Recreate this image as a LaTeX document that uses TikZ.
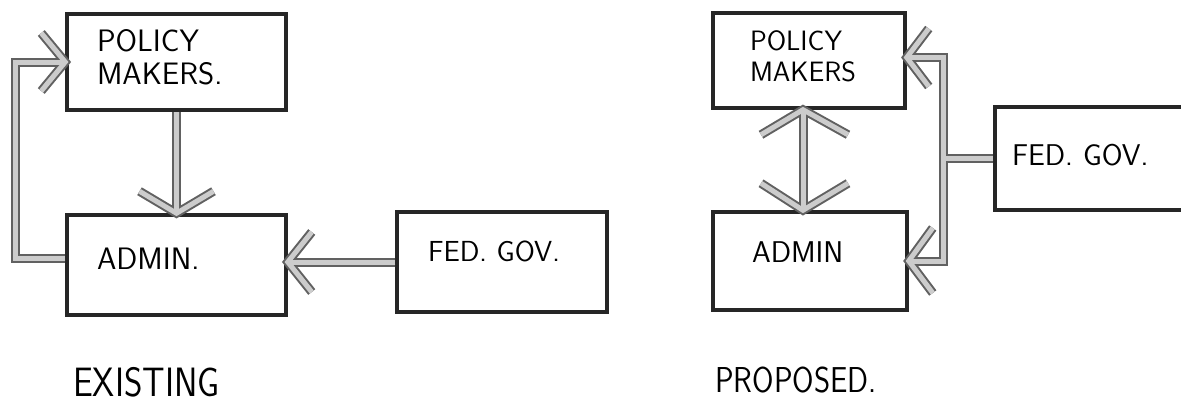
\documentclass[tikz,border=0pt]{standalone}
\usepackage{graphicx}
\usetikzlibrary{calc}
\tikzset{
  box/.style={draw=black!85, line width=3.5pt, inner ysep=0pt, align=left,
    font=\sffamily\fontsize{31}{33}\selectfont},
  barout/.style={draw=black!62, line width=9pt, line join=miter},
  barin/.style={draw=black!20, line width=5pt, line join=miter},
  caption/.style={anchor=base west, inner sep=0pt, font=\sffamily},
}
\newcommand\allbars[1]{%
  % existing
  \draw[#1] (pm1.south) -- (ad1.north);
  \draw[#1] ($(ad1.north)+(-37,-22)$) -- (ad1.north) -- ($(ad1.north)+(37,-22)$);
  \draw[#1] (lp) -- ++(-50,0) |- (pm1.west);
  \draw[#1] ($(pm1.west)+(-24,-29)$) -- (pm1.west) -- ($(pm1.west)+(-24,29)$);
  \draw[#1] (fg1.west) -- (t3);
  \draw[#1] ($(t3)+(24,-30)$) -- (t3) -- ($(t3)+(24,30)$);
  % proposed
  \draw[#1] (dt) -- (db);
  \draw[#1] ($(dt)+(-42,25)$) -- (dt) -- ($(dt)+(45,25)$);
  \draw[#1] ($(db)+(-42,-27)$) -- (db) -- ($(db)+(45,-27)$);
  \draw[#1] (fg2.west) -- (jn);
  \draw[#1] (tp) -- (jt) -- (jb) -- (ad2.east);
  \draw[#1] ($(tp)+(22,-29)$) -- (tp) -- ($(tp)+(22,29)$);
  \draw[#1] ($(ad2.east)+(24,-33)$) -- (ad2.east) -- ($(ad2.east)+(24,32)$);
}
\begin{document}
\begin{tikzpicture}[x=1pt,y=-1pt]
\useasboundingbox (0,0) rectangle (1181,402);
\clip (0,0) rectangle (1181,402);
% ---- existing ----
\node[box, minimum width=219pt, minimum height=96pt, text width=159pt, inner xsep=30pt, text depth=43pt]
  (pm1) at (176.5,62) {POLICY\\MAKERS.};
\node[box, minimum width=219pt, minimum height=100pt, text width=159pt, inner xsep=30pt, text depth=12pt]
  (ad1) at (176.5,265) {ADMIN.};
\node[box, font=\sffamily\fontsize{29}{32}\selectfont, minimum width=210pt, minimum height=100pt, text width=148pt, inner xsep=31pt, text depth=22pt]
  (fg1) at (502,262) {FED.~GOV.};
\coordinate (lp) at ($(ad1.west)+(0,-7)$);
\coordinate (t3) at (fg1.west -| ad1.east);
% ---- proposed ----
\node[box, font=\sffamily\fontsize{28}{31}\selectfont, minimum width=192pt, minimum height=95pt, text width=118pt, inner xsep=37pt, text depth=39pt]
  (pm2) at (809,60.5) {POLICY\\MAKERS};
\node[box, font=\sffamily\fontsize{30}{32}\selectfont, minimum width=194pt, minimum height=98pt, text width=116pt, inner xsep=39pt, text depth=18pt]
  (ad2) at (810,261) {ADMIN};
\node[box, font=\sffamily\fontsize{30}{34}\selectfont, minimum width=210pt, minimum height=103pt, text width=176pt, inner xsep=17pt, text depth=8pt]
  (fg2) at (1100,158.5) {FED.~GOV.};
\coordinate (dt) at ($(pm2.south)+(-6,0)$);
\coordinate (db) at (dt |- ad2.north);
\coordinate (jn) at ($(fg2.west)+(-50,0)$);
\coordinate (tp) at ($(pm2.east)+(0,-3)$);
\coordinate (jt) at (tp -| jn);
\coordinate (jb) at (jn |- ad2.east);
% ---- connectors ----
\allbars{barout}
\allbars{barin}
% ---- captions ----
\node[caption] (lex) at (73,396) {\fontsize{41}{41}\selectfont\scalebox{0.86}[1]{EXISTING}};
\node[caption] (lpr) at (715,392) {\fontsize{36}{36}\selectfont\scalebox{0.86}[1]{PROPOSED.}};
\end{tikzpicture}
\end{document}
